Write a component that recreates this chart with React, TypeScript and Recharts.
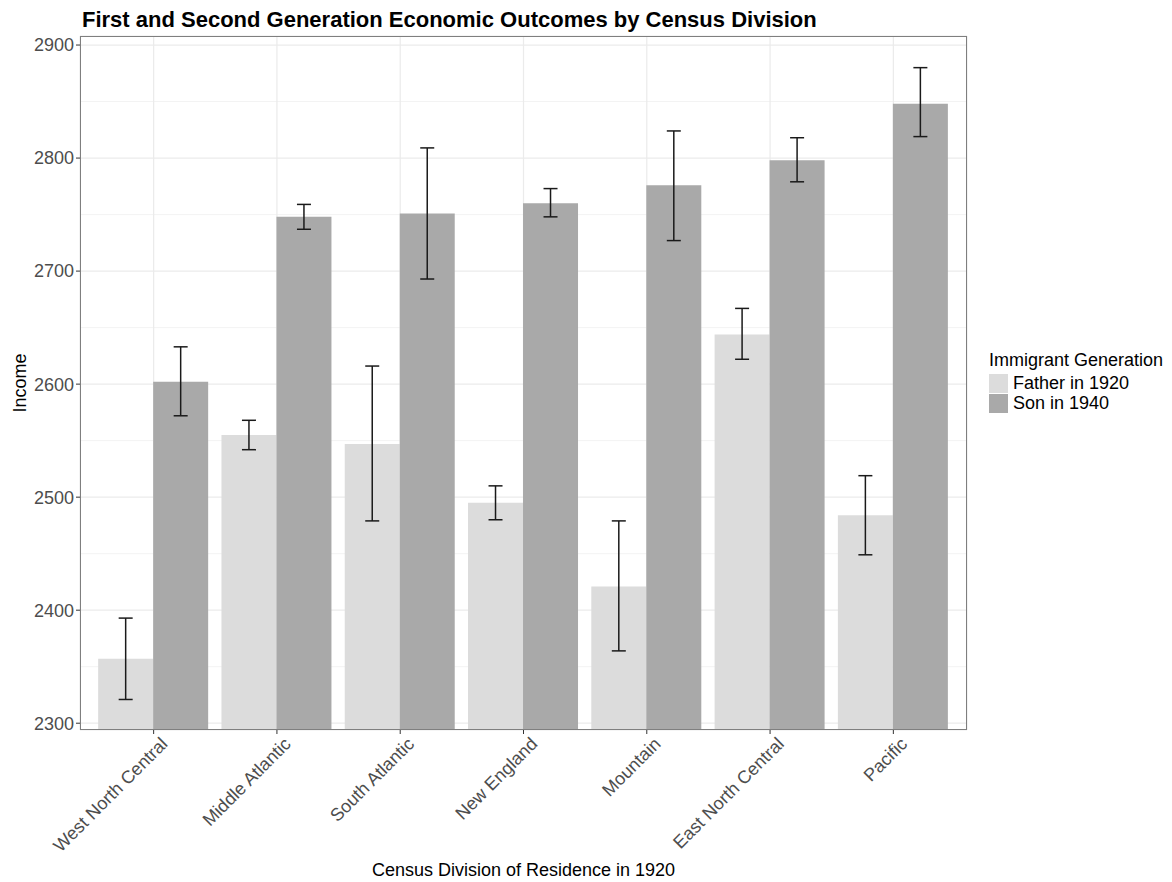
import React from "react"
import {
  Bar,
  BarChart,
  CartesianGrid,
  ErrorBar,
  XAxis,
  YAxis,
} from "recharts"

// census divisions, in plotted order
const divisions = [
  "West North Central",
  "Middle Atlantic",
  "South Atlantic",
  "New England",
  "Mountain",
  "East North Central",
  "Pacific",
]

// mean income + confidence bounds
const fatherIncome = [2357, 2555, 2547, 2495, 2421, 2644, 2484]
const fatherLow = [2321, 2542, 2479, 2480, 2364, 2622, 2449]
const fatherHigh = [2393, 2568, 2616, 2510, 2479, 2667, 2519]

const sonIncome = [2602, 2748, 2751, 2760, 2776, 2798, 2848]
const sonLow = [2572, 2737, 2693, 2748, 2727, 2779, 2819]
const sonHigh = [2633, 2759, 2809, 2773, 2824, 2818, 2880]

const yTicks = [2300, 2400, 2500, 2600, 2700, 2800, 2900]
const yMinorTicks = [2350, 2450, 2550, 2650, 2750, 2850]
const yDomain = [2294, 2908]

const legendItems = [
  { label: "Father in 1920", fill: "#DCDCDC" },
  { label: "Son in 1940", fill: "#A9A9A9" },
]

const FONT = '"Liberation Sans", Arial, Helvetica, sans-serif'
const FATHER_FILL = legendItems[0].fill
const SON_FILL = legendItems[1].fill

const chartData = divisions.map((name, i) => ({
  name,
  father: fatherIncome[i],
  fatherErr: [fatherIncome[i] - fatherLow[i], fatherHigh[i] - fatherIncome[i]],
  son: sonIncome[i],
  sonErr: [sonIncome[i] - sonLow[i], sonHigh[i] - sonIncome[i]],
}))

const XTick = ({ x, y, payload }: any) => (
  <g transform={`translate(${x + 6},${y})`}>
    <text
      transform="rotate(-45)"
      textAnchor="end"
      dy="0.71em"
      fill="#4D4D4D"
      fontSize={18}
      fontFamily={FONT}
    >
      {payload.value}
    </text>
  </g>
)

export default function App() {
  return (
    <div
      style={{
        position: "absolute",
        left: 0,
        top: 0,
        width: 1172,
        height: 882,
        background: "#fff",
        fontFamily: FONT,
      }}
    >
      {/* title */}
      <div
        style={{
          position: "absolute",
          left: 82,
          top: 9,
          fontSize: 22,
          lineHeight: "22px",
          fontWeight: "bold",
          color: "#000",
          whiteSpace: "nowrap",
        }}
      >
        First and Second Generation Economic Outcomes by Census Division
      </div>

      <BarChart
        width={1172}
        height={882}
        data={chartData}
        margin={{ top: 36, right: 205, left: 10, bottom: 0 }}
        barCategoryGap="5%"
        barGap={0}
      >
        {/* minor grid */}
        <CartesianGrid
          vertical={false}
          horizontalValues={yMinorTicks}
          stroke="#F3F3F3"
          strokeWidth={1}
        />
        {/* major grid */}
        <CartesianGrid stroke="#EBEBEB" strokeWidth={1.2} />

        <XAxis
          dataKey="name"
          type="category"
          padding={{ left: 12, right: 12 }}
          height={152}
          axisLine={false}
          tickLine={{ stroke: "#333" }}
          tickSize={4}
          tickMargin={2}
          tick={<XTick />}
          interval={0}
          label={{
            content: ({ viewBox }: any) => (
              <text
                x={viewBox.x + viewBox.width / 2}
                y={viewBox.y + viewBox.height - 6}
                textAnchor="middle"
                fontSize={18}
                fontFamily={FONT}
                fill="#000"
              >
                Census Division of Residence in 1920
              </text>
            ),
          }}
        />
        <YAxis
          type="number"
          domain={yDomain}
          ticks={yTicks}
          allowDataOverflow
          width={70}
          axisLine={false}
          tickLine={{ stroke: "#333" }}
          tickSize={4}
          tickMargin={2}
          tick={{ fill: "#4D4D4D", fontSize: 18, fontFamily: FONT }}
          label={{
            content: ({ viewBox }: any) => {
              const cx = viewBox.x + 10
              const cy = viewBox.y + viewBox.height / 2
              return (
                <text
                  x={cx}
                  y={cy}
                  transform={`rotate(-90, ${cx}, ${cy})`}
                  textAnchor="middle"
                  dominantBaseline="central"
                  fontSize={18}
                  fontFamily={FONT}
                  fill="#000"
                >
                  Income
                </text>
              )
            },
          }}
        />

        <Bar dataKey="father" fill={FATHER_FILL} isAnimationActive={false}>
          <ErrorBar
            dataKey="fatherErr"
            width={7}
            stroke="#1A1A1A"
            strokeWidth={1.5}
            isAnimationActive={false}
          />
        </Bar>
        <Bar dataKey="son" fill={SON_FILL} isAnimationActive={false}>
          <ErrorBar
            dataKey="sonErr"
            width={7}
            stroke="#1A1A1A"
            strokeWidth={1.5}
            isAnimationActive={false}
          />
        </Bar>
      </BarChart>

      {/* panel border */}
      <div
        style={{
          position: "absolute",
          left: 80,
          top: 36,
          width: 887,
          height: 694,
          border: "1px solid #7F7F7F",
          boxSizing: "border-box",
          pointerEvents: "none",
        }}
      />

      {/* legend */}
      <div
        style={{
          position: "absolute",
          left: 989,
          top: 350,
          color: "#000",
        }}
      >
        <div style={{ fontSize: 18, lineHeight: "20px", marginBottom: 3 }}>
          Immigrant Generation
        </div>
        {legendItems.map((item) => (
          <div
            key={item.label}
            style={{ display: "flex", alignItems: "center", height: 20 }}
          >
            <div
              style={{
                width: 19,
                height: 19,
                background: item.fill,
                marginRight: 5,
              }}
            />
            <span style={{ fontSize: 18, lineHeight: "20px" }}>
              {item.label}
            </span>
          </div>
        ))}
      </div>
    </div>
  )
}
